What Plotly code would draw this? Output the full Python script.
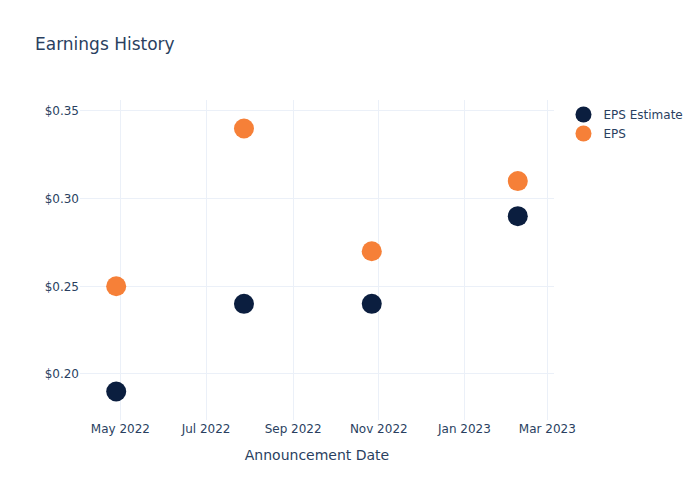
import plotly.graph_objects as go

dates = ["2022-04-28", "2022-07-28", "2022-10-27", "2023-02-08"]
eps_estimate = [0.19, 0.24, 0.24, 0.29]
eps_actual = [0.25, 0.34, 0.27, 0.31]

fig = go.Figure()
fig.add_trace(go.Scatter(x=dates, y=eps_estimate, mode="markers", name="EPS Estimate",
                         marker=dict(size=20, color="#0B1E3F")))
fig.add_trace(go.Scatter(x=dates, y=eps_actual, mode="markers", name="EPS",
                         marker=dict(size=20, color="#F68038")))
fig.update_layout(
    template="plotly_white",
    width=700, height=500,
    font=dict(family="DejaVu Sans"),
    title=dict(text="Earnings History"),
    xaxis=dict(title=dict(text="Announcement Date")),
    yaxis=dict(tickprefix="$", tickformat=".2f"),
)
fig.write_html("out.html", config={"displayModeBar": False},
               post_script="document.body.style.margin='0';")
